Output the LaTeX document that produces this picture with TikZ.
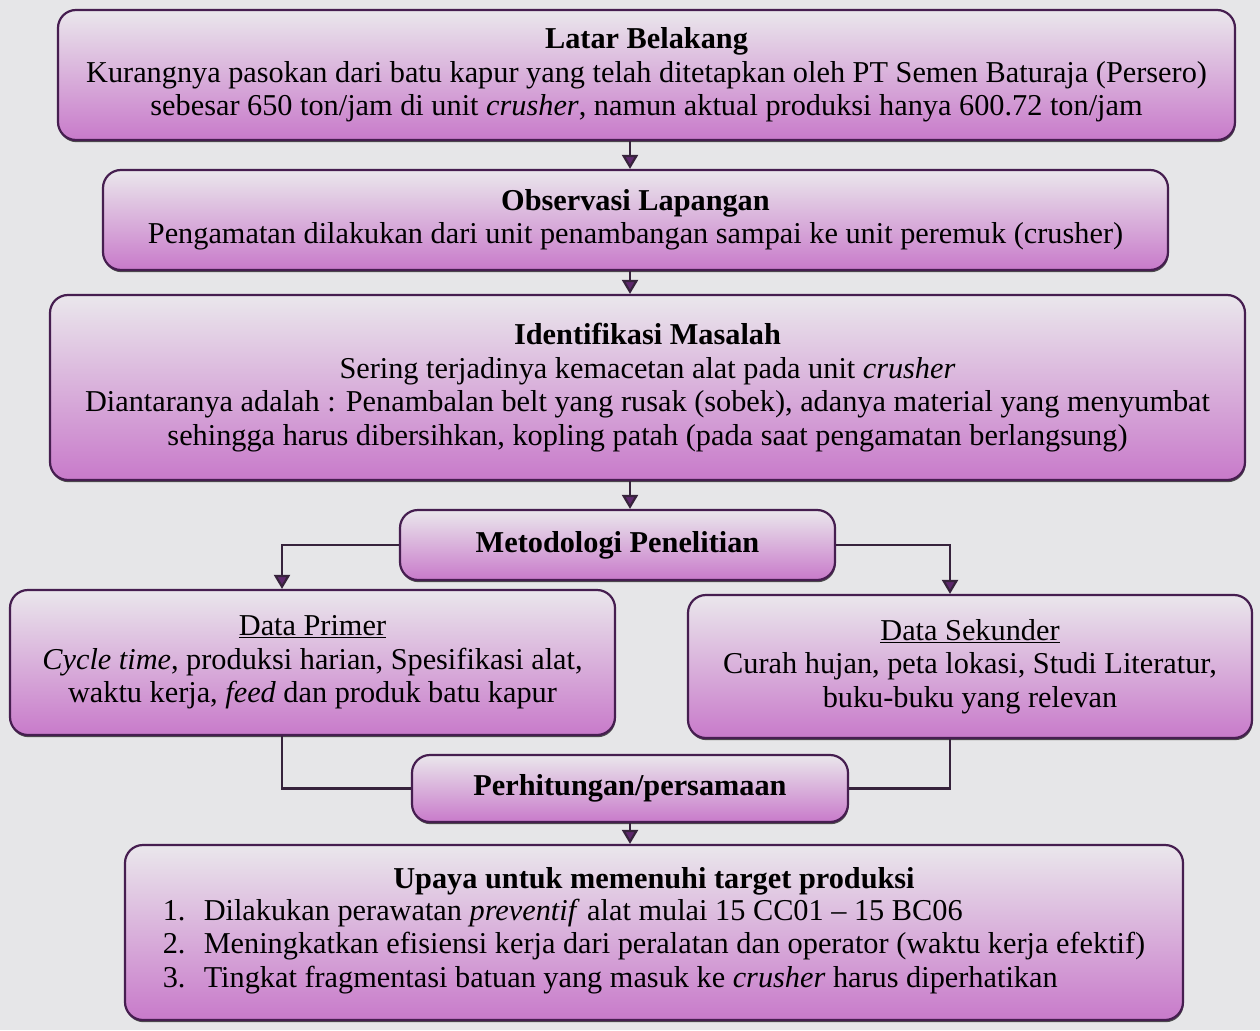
\documentclass[tikz,border=0pt]{standalone}
\usepackage{fontspec}
\setmainfont{Liberation Serif}
\usetikzlibrary{arrows.meta,shadows,calc}
\definecolor{bg}{RGB}{230,230,232}
\definecolor{edge}{RGB}{70,30,80}
\definecolor{topc}{RGB}{234,231,236}
\definecolor{botc}{RGB}{200,122,202}
\definecolor{linec}{RGB}{55,35,60}
\definecolor{tipc}{RGB}{95,40,110}
\begin{document}
\begin{tikzpicture}[x=1pt,y=-1pt,
  box/.style={draw=edge, line width=2.2pt, rounded corners=18pt, top color=topc, bottom color=botc,
    drop shadow={shadow xshift=0.6pt, shadow yshift=-2.2pt, fill=black!80, opacity=0.85},
    align=center, inner sep=0pt, font=\fontsize{30.3}{33.5}\selectfont},
  con/.style={draw=linec, line width=2.2pt},
  arr/.style={con, -{Triangle[width=16pt,length=14pt,fill=tipc]}}]
\fill[bg] (0,0) rectangle (1260,1030);
\useasboundingbox (0,0) rectangle (1260,1030);
\coordinate (cl) at (282,0);
\coordinate (cr) at (950,0);

\node[box, minimum width=1177pt, minimum height=130pt] (b1) at (646.5,75)
  {\textbf{Latar Belakang}\\Kurangnya pasokan dari batu kapur yang telah ditetapkan oleh PT Semen Baturaja (Persero)\\sebesar 650 ton/jam di unit \textit{crusher}, namun aktual produksi hanya 600.72 ton/jam};
\node[box, minimum width=1065pt, minimum height=100pt] (b2) at (635.5,220)
  {\textbf{Observasi Lapangan}\\Pengamatan dilakukan dari unit penambangan sampai ke unit peremuk (crusher)};
\node[box, minimum width=1195pt, minimum height=185pt] (b3) at (647.5,387.5)
  {\textbf{Identifikasi Masalah}\\Sering terjadinya kemacetan alat pada unit \textit{crusher}\\Diantaranya adalah : Penambalan belt yang rusak (sobek), adanya material yang menyumbat\\sehingga harus dibersihkan, kopling patah (pada saat pengamatan berlangsung)};
\node[box, minimum width=435pt, minimum height=70pt] (b4) at (617.5,545)
  {\textbf{Metodologi Penelitian}};
\node[box, minimum width=605pt, minimum height=145pt] (b5) at (312.5,662.5)
  {\underline{Data Primer}\\\textit{Cycle time}, produksi harian, Spesifikasi alat,\\waktu kerja, \textit{feed} dan produk batu kapur};
\node[box, minimum width=564pt, minimum height=143pt] (b6) at (970,666.5)
  {\underline{Data Sekunder}\\Curah hujan, peta lokasi, Studi Literatur,\\buku-buku yang relevan};
\node[box, minimum width=436pt, minimum height=67pt] (b7) at (630,788.5)
  {\textbf{Perhitungan/persamaan}};
\node[box, minimum width=1058pt, minimum height=175pt] (b8) at (654,932.5)
  {\textbf{Upaya untuk memenuhi target produksi}\\
   \begin{tabular}{@{}l@{}}
   1.\hspace{0.6em}Dilakukan perawatan \textit{preventif} alat mulai 15 CC01 -- 15 BC06\\
   2.\hspace{0.6em}Meningkatkan efisiensi kerja dari peralatan dan operator (waktu kerja efektif)\\
   3.\hspace{0.6em}Tingkat fragmentasi batuan yang masuk ke \textit{crusher} harus diperhatikan
   \end{tabular}};

\draw[arr] (b1.south -| b7.center) -- (b2.north -| b7.center);
\draw[arr] (b2.south -| b7.center) -- (b3.north -| b7.center);
\draw[arr] (b3.south -| b7.center) -- (b4.north -| b7.center);
\draw[arr] (b4.west) -| (cl |- b5.north);
\draw[arr] (b4.east) -| (cr |- b6.north);
\draw[con] (cl |- b5.south) |- (b7.west);
\draw[con] (cr |- b6.south) |- (b7.east);
\draw[arr] (b7.south) -- (b8.north -| b7.center);
\end{tikzpicture}
\end{document}
